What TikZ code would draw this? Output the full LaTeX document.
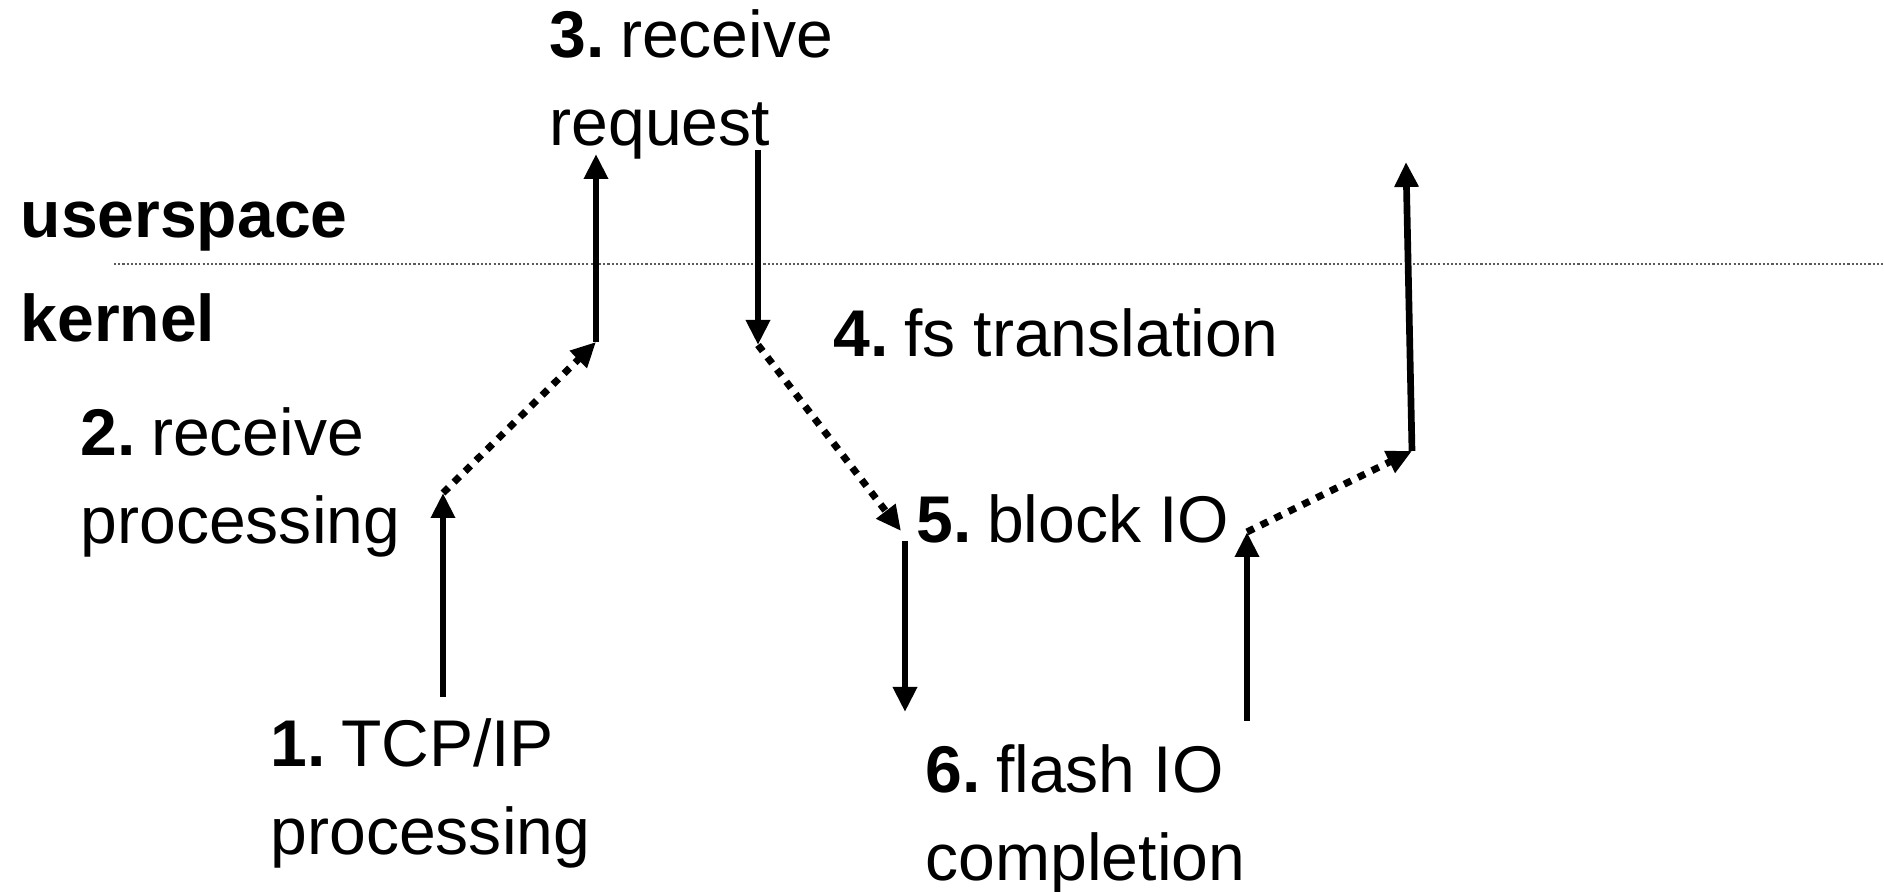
\documentclass[tikz,border=0pt]{standalone}
\usepackage{fontspec}
\setmainfont{Liberation Sans}
\usepackage{tikz}
\usetikzlibrary{calc,positioning,arrows.meta}
\usepackage{xcolor}
\definecolor{flowblack}{RGB}{0,0,0}
\definecolor{divgray}{RGB}{90,90,90}
\newcommand{\stepno}[1]{\textbf{#1.}\hspace{0.23em}}

\begin{document}
\begin{tikzpicture}[x=1cm,y=1cm,>={Triangle[length=2.5mm,width=2.3mm]}]
  \tikzset{
    lab/.style={anchor=base west,inner sep=0pt,align=left,font=\fontsize{18.8}{25.3}\selectfont},
    side/.style={lab,font=\fontsize{18.8}{25.3}\selectfont\bfseries},
    flow/.style={draw=flowblack,line width=1.9pt,->},
    hop/.style={draw=flowblack,line width=2pt,dash pattern=on 2.2pt off 2.2pt,->},
    divide/.style={draw=divgray,line width=0.45pt,dash pattern=on 0.6pt off 0.6pt},
  }
  \useasboundingbox (0,0) rectangle (18.84,8.92);

  \coordinate (d0) at (1.14,6.28); \coordinate (d1) at (18.84,6.28);
  \coordinate (p1) at (4.43,1.95); \coordinate (p2) at (4.43,3.99);
  \coordinate (p3) at (5.96,5.50); \coordinate (p4) at (5.96,7.38);
  \coordinate (q1) at (7.58,7.42); \coordinate (q2) at (7.58,5.47);
  \coordinate (q3) at (9.01,3.61); \coordinate (q4) at (9.05,3.51);
  \coordinate (q5) at (9.05,1.80);
  \coordinate (r1) at (12.47,1.71); \coordinate (r2) at (12.47,3.60);
  \coordinate (r3) at (14.12,4.41); \coordinate (r4) at (14.06,7.30);

  \draw[divide] (d0)--(d1);

  \node[side] (user) at (0.20,6.54) {userspace};
  \node[side] (kern) at (0.20,5.50) {kernel};

  % two-line labels sit on their last baseline
  \node[lab] (s1) at (2.70,0.37) {\stepno{1}TCP/IP\\processing};
  \node[lab] (s2) at (0.80,3.48) {\stepno{2}receive\\processing};
  \node[lab] (s3) at (5.49,7.46) {\stepno{3}receive\\request};
  \node[lab] (s4) at (8.33,5.35) {\stepno{4}fs translation};
  \node[lab] (s5) at (9.16,3.49) {\stepno{5}block IO};
  \node[lab] (s6) at (9.25,0.11) {\stepno{6}flash IO\\completion};

  \draw[flow] (p1)--(p2);
  \draw[hop] (p2)--(p3);
  \draw[flow] (p3)--(p4);
  \draw[flow] (q1)--(q2);
  \draw[hop] (q2)--(q3);
  \draw[flow] (q4)--(q5);
  \draw[flow] (r1)--(r2);
  \draw[hop] (r2)--(r3);
  \draw[flow] (r3)--(r4);
\end{tikzpicture}
\end{document}
